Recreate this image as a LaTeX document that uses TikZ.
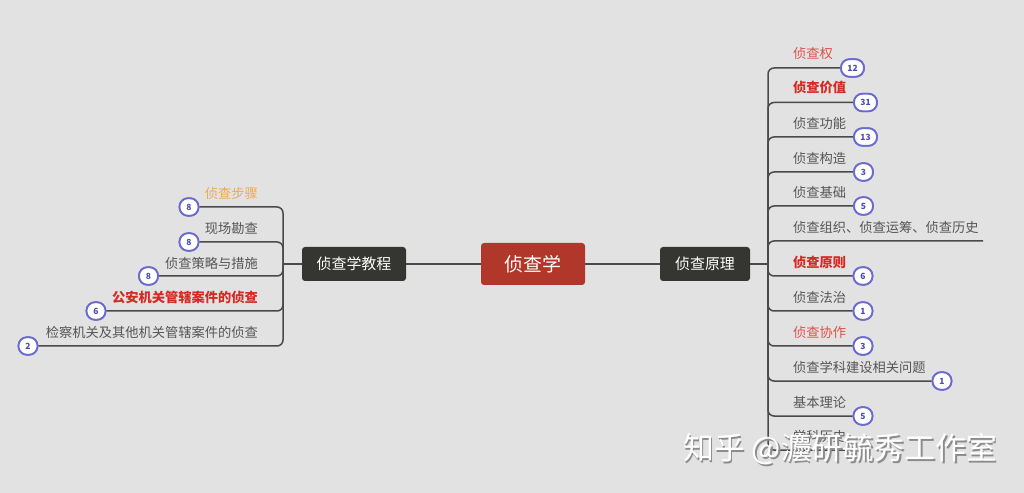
\documentclass[tikz,border=0pt]{standalone}
\usepackage{fontspec}
\setmainfont{Noto Sans CJK SC}
\usetikzlibrary{positioning}
\definecolor{bgc}{HTML}{E2E2E2}
\definecolor{linec}{HTML}{4A4A4A}
\definecolor{rootc}{HTML}{B0372A}
\definecolor{subc}{HTML}{353531}
\definecolor{txtc}{HTML}{555555}
\definecolor{redc}{HTML}{D42A22}
\definecolor{lredc}{HTML}{E0504A}
\definecolor{orgc}{HTML}{F2A94A}
\definecolor{badgeb}{HTML}{6A6AD0}
\definecolor{badget}{HTML}{4E4EB0}
\tikzset{
  conn/.style={draw=linec, line width=1.5bp, rounded corners=6bp},
  rootbox/.style={fill=rootc, rounded corners=3bp, text=white, minimum width=104bp, minimum height=42bp, inner sep=0pt, font=\fontsize{19}{21}\selectfont},
  subbox/.style={fill=subc, rounded corners=3bp, text=white, minimum height=34bp, inner sep=0pt, font=\fontsize{15}{17}\selectfont},
  item/.style={text=txtc, inner sep=0pt, font=\fontsize{13.3}{15}\selectfont},
  itemR/.style={item, anchor=west},
  itemL/.style={item, anchor=east},
  bolditem/.style={text=redc, font=\fontsize{13.3}{15}\selectfont\bfseries},
  badge/.style={draw=badgeb, fill=white, line width=1.8bp, rounded corners=8.5bp, minimum width=19bp, minimum height=17.5bp, inner sep=0pt, text=badget, font=\fontsize{8.5}{9}\selectfont\bfseries},
  badgew/.style={badge, minimum width=23bp},
  wmark/.style={anchor=west, inner sep=0pt, font=\fontsize{31}{33}\selectfont},
}
\begin{document}
\begin{tikzpicture}[x=1bp,y=-1bp]
\fill[bgc] (0,0) rectangle (1024,493);
\useasboundingbox (0,0) rectangle (1024,493);

% main nodes
\node[rootbox] (root) at (533,264) {侦查学};
\node[subbox, minimum width=104bp] (L) at (354,264) {侦查学教程};
\node[subbox, minimum width=90bp] (R) at (705,264) {侦查原理};
\coordinate (rj) at (768,264);
\coordinate (lj) at (283,264);
\draw[conn] (L) -- (root);
\draw[conn] (root) -- (R);
\draw[conn] (R) -- (rj);
\draw[conn] (L) -- (lj);

% right branch badges
\node[badgew] (b1) at (852.5,68) {12};
\node[badgew] (b2) at (865.5,102.5) {31};
\node[badgew] (b3) at (865.5,137) {13};
\node[badge] (b4) at (863.5,172) {3};
\node[badge] (b5) at (863.5,206) {5};
\coordinate (e6) at (983,241);
\node[badge] (b7) at (863,276) {6};
\node[badge] (b8) at (863,311) {1};
\node[badge] (b9) at (863,346) {3};
\node[badge] (b10) at (942,381) {1};
\node[badge] (b11) at (863,416) {5};
\coordinate (e12) at (852,450);

\foreach \n in {b1,b2,b3,b4,b5,e6,b7,b8,b9,b10,b11,e12}
  \draw[conn] (rj) |- (\n.west);
% redraw badges on top
\node[badgew] at (b1) {12};
\node[badgew] at (b2) {31};
\node[badgew] at (b3) {13};
\node[badge] at (b4) {3};
\node[badge] at (b5) {5};
\node[badge] at (b7) {6};
\node[badge] at (b8) {1};
\node[badge] at (b9) {3};
\node[badge] at (b10) {1};
\node[badge] at (b11) {5};

% right texts
\node[itemR, text=lredc] (t1) at (793,53.5) {侦查权};
\node[itemR, bolditem] (t2) at (793,88) {侦查价值};
\node[itemR] (t3) at (793,123) {侦查功能};
\node[itemR] (t4) at (793,158) {侦查构造};
\node[itemR] (t5) at (793,192.5) {侦查基础};
\node[itemR] (t6) at (793,227) {侦查组织、侦查运筹、侦查历史};
\node[itemR, bolditem] (t7) at (793,262) {侦查原则};
\node[itemR] (t8) at (793,297) {侦查法治};
\node[itemR, text=lredc] (t9) at (793,332) {侦查协作};
\node[itemR] (t10) at (793,367) {侦查学科建设相关问题};
\node[itemR] (t11) at (793,402) {基本理论};
\node[itemR] (t12) at (793,436) {学科历史};

% left branch badges
\node[badge] (c1) at (189,207) {8};
\node[badge] (c2) at (189,242) {8};
\node[badge] (c3) at (148.5,276) {8};
\node[badge] (c4) at (96,311) {6};
\node[badge] (c5) at (28,346) {2};
\foreach \n in {c1,c2,c3,c4,c5}
  \draw[conn] (lj) |- (\n.east);
\node[badge] at (c1) {8};
\node[badge] at (c2) {8};
\node[badge] at (c3) {8};
\node[badge] at (c4) {6};
\node[badge] at (c5) {2};

% left texts
\node[itemL, text=orgc] (s1) at (258,193) {侦查步骤};
\node[itemL] (s2) at (258,228) {现场勘查};
\node[itemL] (s3) at (258,263) {侦查策略与措施};
\node[itemL, bolditem] (s4) at (258,297.5) {公安机关管辖案件的侦查};
\node[itemL] (s5) at (258,332.5) {检察机关及其他机关管辖案件的侦查};

% watermark
\node[wmark, text=black!45] (wms) at (684.5,450.5) {知乎 @灋研毓秀工作室};
\node[wmark, text=white] (wm) at (683,449) {知乎 @灋研毓秀工作室};
\end{tikzpicture}
\end{document}
